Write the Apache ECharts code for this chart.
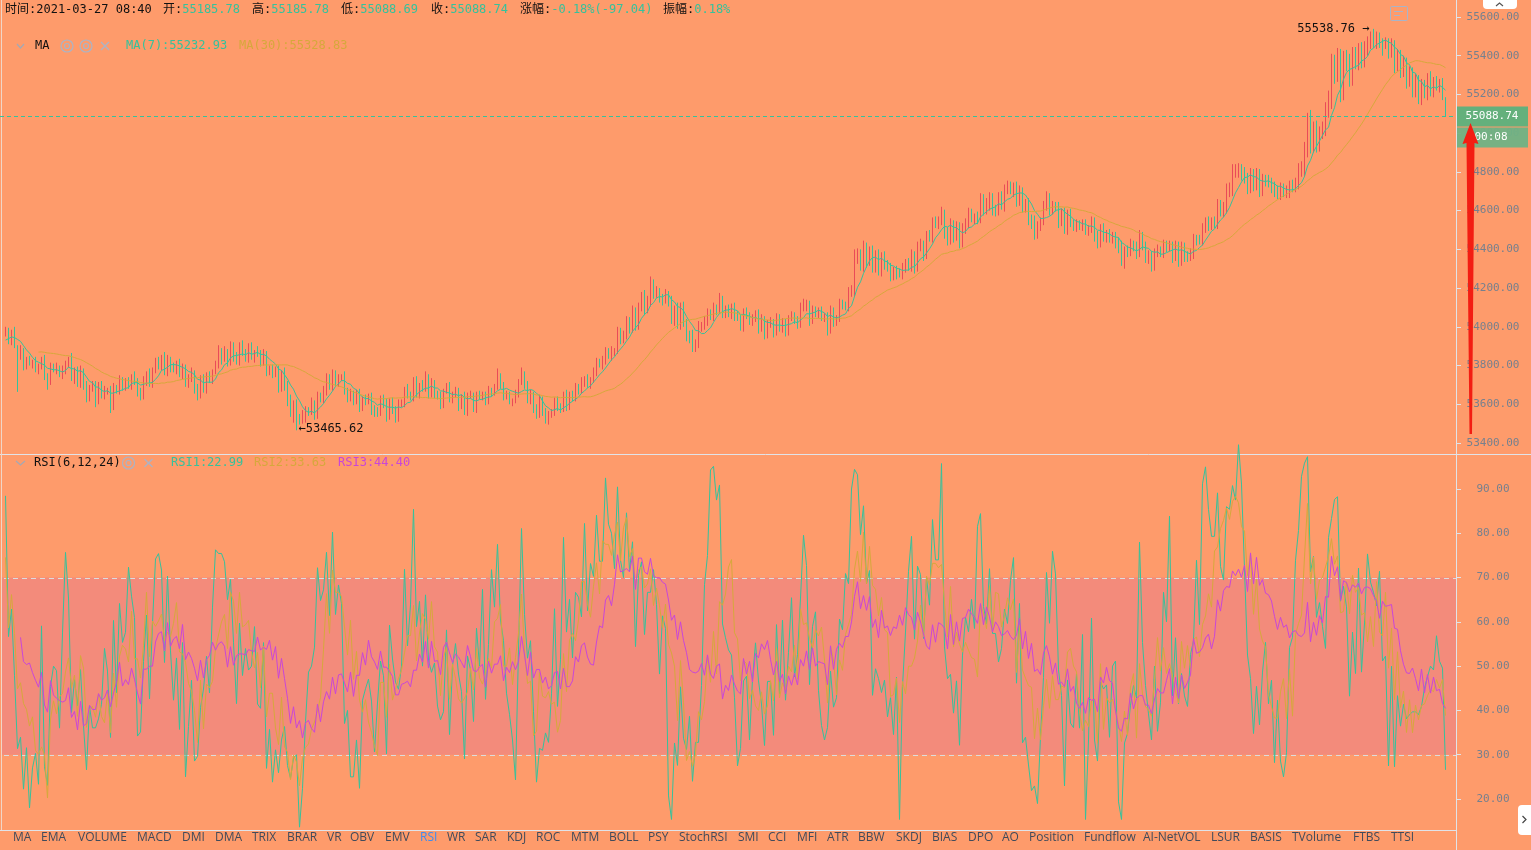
<!DOCTYPE html>
<html>
<head>
<meta charset="utf-8">
<title>K线 RSI</title>
<script src="https://cdn.jsdelivr.net/npm/echarts@6/dist/echarts.min.js"></script>
<style>
  html, body { margin: 0; padding: 0; background: #fe9b6b; }
  #chart { width: 1531px; height: 850px; }
</style>
</head>
<body>
<div id="chart"></div>
<script>
// closes before the visible window, only used to warm up MA / RSI
const warmupCloses = [53790, 53820, 53805, 53840, 53830, 53860, 53845, 53880, 53870, 53850,
  53890, 53905, 53880, 53910, 53930, 53915, 53945, 53960];

// visible closes, 10 candles per row (open = previous close)
const closes = [
  53980, 53930, 53975, 53905, 53850, 53875, 53805, 53825, 53815, 53820,
  53785, 53795, 53825, 53750, 53710, 53795, 53785, 53790, 53755, 53780,
  53805, 53835, 53740, 53775, 53705, 53775, 53705, 53650, 53680, 53690,
  53620, 53700, 53655, 53670, 53675, 53595, 53685, 53670, 53730, 53700,
  53720, 53700, 53745, 53715, 53670, 53645, 53725, 53760, 53705, 53775,
  53820, 53800, 53840, 53765, 53835, 53795, 53780, 53810, 53760, 53790,
  53715, 53735, 53765, 53690, 53650, 53730, 53685, 53750, 53725, 53770,
  53805, 53875, 53830, 53875, 53815, 53905, 53845, 53820, 53900, 53860,
  53840, 53900, 53845, 53870, 53865, 53820, 53865, 53780, 53785, 53760,
  53780, 53690, 53765, 53705, 53630, 53565, 53610, 53530, 53525, 53545,
  53570, 53560, 53610, 53545, 53645, 53625, 53670, 53740, 53690, 53760,
  53715, 53735, 53745, 53670, 53640, 53660, 53615, 53660, 53585, 53630,
  53615, 53645, 53570, 53565, 53555, 53635, 53605, 53540, 53620, 53575,
  53530, 53600, 53605, 53680, 53645, 53640, 53725, 53650, 53700, 53680,
  53740, 53650, 53715, 53655, 53645, 53600, 53670, 53695, 53630, 53655,
  53670, 53590, 53640, 53565, 53645, 53650, 53580, 53650, 53640, 53650,
  53615, 53675, 53665, 53690, 53750, 53700, 53645, 53650, 53615, 53620,
  53655, 53715, 53760, 53705, 53625, 53655, 53585, 53550, 53630, 53570,
  53530, 53550, 53555, 53620, 53590, 53575, 53655, 53590, 53650, 53630,
  53690, 53670, 53715, 53735, 53700, 53725, 53765, 53820, 53805, 53825,
  53870, 53850, 53870, 53875, 53975, 53935, 53950, 54030, 53990, 54080,
  54005, 54095, 54155, 54090, 54130, 54220, 54175, 54180, 54145, 54140,
  54165, 54135, 54040, 54095, 54015, 54105, 54025, 53960, 53955, 53900,
  53910, 54000, 54005, 54030, 54065, 54055, 54095, 54090, 54140, 54070,
  54090, 54070, 54105, 54055, 54050, 54005, 54075, 54060, 54035, 54045,
  54070, 53990, 54040, 53965, 54015, 54025, 53970, 54050, 54000, 54020,
  53975, 54045, 54055, 54040, 54010, 54100, 54105, 54120, 54035, 54090,
  54075, 54080, 54050, 54055, 53985, 54085, 54025, 54040, 54120, 54110,
  54100, 54180, 54185, 54360, 54375, 54315, 54415, 54340, 54390, 54310,
  54370, 54290, 54365, 54315, 54310, 54265, 54285, 54280, 54275, 54305,
  54330, 54310, 54370, 54305, 54415, 54425, 54370, 54470, 54465, 54540,
  54535, 54545, 54585, 54490, 54450, 54530, 54465, 54520, 54435, 54510,
  54535, 54585, 54560, 54565, 54555, 54665, 54605, 54630, 54670, 54610,
  54600, 54670, 54625, 54710, 54725, 54705, 54725, 54650, 54700, 54620,
  54640, 54560, 54545, 54485, 54520, 54545, 54625, 54670, 54605, 54625,
  54620, 54540, 54590, 54505, 54585, 54535, 54520, 54530, 54520, 54530,
  54495, 54505, 54545, 54470, 54430, 54510, 54465, 54480, 54455, 54470,
  54435, 54415, 54330, 54395, 54385, 54425, 54415, 54380, 54470, 54420,
  54360, 54370, 54315, 54380, 54395, 54385, 54425, 54410, 54420, 54360,
  54420, 54340, 54415, 54365, 54360, 54375, 54455, 54450, 54445, 54505,
  54540, 54520, 54540, 54535, 54625, 54595, 54610, 54700, 54710, 54800,
  54805, 54815, 54795, 54770, 54720, 54790, 54735, 54790, 54705, 54760,
  54755, 54745, 54720, 54705, 54685, 54715, 54695, 54700, 54730, 54720,
  54740, 54810, 54815, 54920, 55080, 54935, 55025, 54940, 55000, 55020,
  55120, 55170, 55365, 55305, 55390, 55215, 55385, 55360, 55285, 55405,
  55370, 55430, 55375, 55440, 55470, 55515, 55470, 55505, 55480, 55445,
  55480, 55400, 55470, 55330, 55420, 55300, 55380, 55250, 55330, 55200,
  55290, 55160, 55260, 55190, 55300, 55200, 55280, 55230, 55270, 55185.78,
  55088.74
];

// upper / lower shadow length of each candle (price units)
const wickUp = [
  20, 15, 10, 25, 0, 30, 15, 20, 25, 10,
  25, 15, 20, 30, 10, 20, 15, 25, 10, 20,
  20, 10, 30, 15, 20, 25, 10, 15, 20, 30,
  30, 15, 20, 25, 10, 20, 25, 15, 20, 10,
  15, 20, 10, 25, 20, 15, 20, 10, 25, 15,
  20, 25, 15, 30, 20, 10, 20, 15, 25, 20,
  15, 20, 25, 10, 15, 20, 25, 15, 20, 10,
  20, 30, 15, 25, 10, 20, 15, 25, 20, 30,
  25, 15, 20, 10, 30, 15, 20, 10, 15, 20,
  15, 20, 10, 25, 15, 20, 10, 15, 20, 25,
  20, 15, 25, 10, 20, 15, 25, 20, 15, 20,
  15, 20, 10, 25, 15, 20, 10, 15, 20, 10,
  20, 10, 15, 25, 20, 10, 15, 25, 10, 15,
  15, 25, 20, 10, 25, 20, 15, 20, 10, 25,
  30, 15, 20, 10, 15, 20, 10, 15, 20, 10,
  20, 15, 10, 25, 15, 20, 10, 15, 20, 15,
  15, 20, 10, 15, 35, 10, 15, 20, 15, 10,
  20, 15, 30, 10, 15, 20, 10, 15, 20, 10,
  10, 15, 20, 15, 20, 15, 10, 20, 15, 20,
  20, 15, 25, 10, 20, 15, 25, 20, 15, 25,
  25, 20, 30, 15, 25, 20, 30, 25, 20, 30,
  20, 30, 25, 35, 30, 40, 25, 30, 20, 25,
  30, 20, 25, 15, 30, 20, 25, 15, 20, 30,
  25, 30, 20, 25, 30, 25, 30, 20, 35, 20,
  20, 25, 15, 20, 25, 15, 20, 25, 15, 20,
  15, 20, 25, 15, 20, 25, 15, 20, 15, 25,
  20, 15, 25, 20, 15, 25, 40, 20, 15, 20,
  15, 20, 25, 15, 20, 25, 15, 20, 25, 20,
  20, 25, 30, 40, 30, 25, 30, 20, 25, 30,
  25, 30, 20, 25, 30, 20, 25, 30, 20, 25,
  20, 25, 30, 20, 25, 30, 20, 25, 30, 25,
  30, 25, 35, 20, 25, 30, 20, 25, 20, 25,
  25, 30, 25, 20, 30, 25, 20, 35, 25, 20,
  20, 25, 30, 25, 30, 25, 20, 25, 30, 20,
  20, 25, 20, 30, 25, 20, 25, 30, 20, 25,
  20, 25, 20, 25, 20, 25, 20, 25, 20, 25,
  25, 20, 25, 20, 25, 20, 25, 20, 25, 20,
  20, 25, 30, 20, 25, 30, 20, 25, 30, 20,
  20, 25, 20, 25, 30, 20, 25, 20, 25, 20,
  25, 20, 25, 20, 25, 30, 25, 20, 25, 30,
  25, 30, 25, 30, 35, 30, 35, 40, 35, 40,
  35, 30, 25, 30, 25, 30, 25, 30, 25, 30,
  25, 30, 25, 30, 25, 30, 25, 30, 25, 30,
  30, 35, 40, 35, 25, 40, 35, 40, 35, 40,
  40, 50, 45, 40, 50, 45, 40, 45, 50, 40,
  40, 35, 40, 35, 30, 10, 23.76, 20, 15, 10,
  15, 10, 20, 10, 15, 10, 20, 10, 15, 10,
  15, 10, 20, 15, 10, 20, 10, 15, 10, 15,
  0
];

const wickDown = [
  10, 20, 25, 15, 186, 20, 30, 25, 15, 30,
  20, 30, 15, 25, 35, 10, 20, 30, 15, 25,
  25, 15, 20, 35, 15, 20, 30, 40, 35, 15,
  35, 20, 25, 30, 20, 40, 25, 15, 20, 30,
  30, 20, 25, 15, 30, 25, 20, 30, 15, 20,
  15, 20, 25, 15, 20, 30, 15, 25, 20, 30,
  25, 30, 20, 35, 30, 20, 25, 30, 15, 20,
  15, 20, 25, 10, 20, 15, 25, 15, 20, 10,
  20, 25, 15, 30, 20, 25, 20, 35, 30, 25,
  20, 30, 25, 35, 40, 30, 60, 64.38, 30, 25,
  40, 20, 15, 25, 20, 15, 20, 25, 15, 20,
  20, 25, 15, 20, 30, 25, 20, 15, 25, 20,
  20, 15, 25, 30, 20, 15, 25, 30, 20, 25,
  25, 20, 15, 20, 15, 20, 25, 15, 20, 15,
  15, 20, 15, 25, 20, 25, 20, 15, 20, 25,
  20, 25, 15, 20, 25, 15, 20, 25, 15, 20,
  20, 15, 25, 20, 15, 20, 25, 20, 15, 25,
  15, 20, 15, 25, 20, 25, 30, 25, 20, 30,
  30, 35, 20, 15, 25, 20, 15, 25, 20, 15,
  15, 20, 15, 25, 15, 20, 15, 20, 15, 25,
  20, 15, 25, 20, 15, 25, 20, 15, 25, 20,
  25, 20, 15, 30, 20, 25, 30, 25, 20, 30,
  20, 30, 25, 35, 25, 30, 25, 35, 40, 30,
  30, 20, 25, 20, 25, 20, 25, 30, 20, 25,
  25, 20, 30, 25, 20, 25, 30, 20, 25, 30,
  20, 25, 15, 30, 25, 20, 25, 15, 25, 30,
  25, 20, 15, 25, 20, 15, 20, 25, 30, 20,
  25, 30, 20, 25, 30, 20, 25, 20, 15, 20,
  15, 20, 25, 30, 35, 25, 30, 35, 25, 30,
  30, 25, 30, 20, 25, 30, 25, 35, 20, 30,
  25, 20, 25, 30, 20, 25, 30, 20, 25, 30,
  25, 30, 20, 35, 30, 25, 30, 20, 30, 25,
  30, 25, 20, 30, 25, 20, 30, 25, 30, 35,
  30, 25, 20, 30, 25, 20, 35, 30, 25, 30,
  30, 35, 40, 35, 30, 25, 20, 25, 30, 25,
  25, 30, 20, 25, 30, 20, 25, 30, 20, 25,
  20, 25, 20, 30, 25, 20, 25, 30, 20, 25,
  30, 35, 15, 30, 25, 20, 25, 30, 20, 25,
  30, 35, 30, 25, 20, 25, 30, 25, 20, 30,
  20, 30, 25, 30, 25, 20, 25, 30, 20, 25,
  20, 25, 20, 25, 30, 25, 30, 25, 30, 35,
  30, 35, 40, 30, 35, 30, 35, 30, 35, 30,
  30, 25, 30, 35, 25, 30, 25, 30, 35, 25,
  25, 30, 35, 40, 45, 40, 35, 40, 35, 30,
  35, 40, 45, 50, 40, 55, 45, 40, 45, 40,
  40, 45, 40, 35, 40, 35, 30, 35, 40, 45,
  10, 15, 10, 20, 10, 15, 10, 20, 10, 15,
  15, 10, 15, 10, 20, 10, 15, 10, 20, 15,
  0.05
];

const SLOTS = 484; // 481 candles + 3 empty slots at the right edge
const categories = Array.from({length: SLOTS}, (_, i) => String(i));

const headerItems = [
  ['时间:', '2021-03-27 08:40', 5, true],
  ['开:', '55185.78', 163],
  ['高:', '55185.78', 252],
  ['低:', '55088.69', 341],
  ['收:', '55088.74', 431],
  ['涨幅:', '-0.18%(-97.04)', 520],
  ['振幅:', '0.18%', 663]
];
const maLegend = [['MA(7):55232.93', 126, 'teal'], ['MA(30):55328.83', 239, 'gold']];
const rsiLegend = [['RSI1:22.99', 171, 'teal'], ['RSI2:33.63', 254, 'gold'], ['RSI3:44.40', 338, 'magenta']];
const menuItems = [
  ['MA', 13], ['EMA', 41], ['VOLUME', 78], ['MACD', 137], ['DMI', 182], ['DMA', 215],
  ['TRIX', 252], ['BRAR', 287], ['VR', 327], ['OBV', 350], ['EMV', 385], ['RSI', 420],
  ['WR', 447], ['SAR', 475], ['KDJ', 507], ['ROC', 536], ['MTM', 571], ['BOLL', 609],
  ['PSY', 648], ['StochRSI', 679], ['SMI', 738], ['CCI', 768], ['MFI', 797], ['ATR', 827],
  ['BBW', 858], ['SKDJ', 896], ['BIAS', 932], ['DPO', 968], ['AO', 1002], ['Position', 1029],
  ['Fundflow', 1084], ['AI-NetVOL', 1143], ['LSUR', 1211], ['BASIS', 1250], ['TVolume', 1292],
  ['FTBS', 1353], ['TTSI', 1391]
];

const C = {
  bg: '#fe9b6b', band: '#f38b7b', teal: '#35c29c', red: '#e94b58', gold: '#d6a83c',
  magenta: '#c946d8', axisText: '#76808e', line: '#e1e3e8', black: '#111111'
};
const MONO = "'DejaVu Sans Mono', 'Noto Sans CJK SC', monospace";

// ---- derived series ----
const warm = warmupCloses.length;
const allCloses = warmupCloses.concat(closes);
const candles = closes.map((c, i) => {
  const o = i === 0 ? warmupCloses[warm - 1] : closes[i - 1];
  return [o, c, +(Math.min(o, c) - wickDown[i]).toFixed(2), +(Math.max(o, c) + wickUp[i]).toFixed(2)];
});

function movingAverage(n) {
  const out = [];
  for (let i = 0; i < allCloses.length; i++) {
    if (i < n - 1) { out.push(null); continue; }
    let s = 0;
    for (let j = i - n + 1; j <= i; j++) s += allCloses[j];
    out.push(+(s / n).toFixed(2));
  }
  return out.slice(warm);
}

function rsi(n) {
  const out = [];
  for (let i = 0; i < allCloses.length; i++) {
    if (i < n - 1) { out.push(null); continue; }
    let up = 0, dn = 0;
    for (let j = i - n + 1; j <= i; j++) {
      if (j === 0) continue;
      const d = allCloses[j] - allCloses[j - 1];
      if (d > 0) up += d; else dn -= d;
    }
    out.push(dn === 0 ? 100 : +(100 - 100 / (1 + up / dn)).toFixed(2));
  }
  return out.slice(warm);
}

const ma7 = movingAverage(7), ma30 = movingAverage(30);
const rsi1 = rsi(6), rsi2 = rsi(12), rsi3 = rsi(24);

const hiddenAxis = {
  type: 'category', data: categories, boundaryGap: true,
  axisLine: {show: false}, axisTick: {show: false}, axisLabel: {show: false}, splitLine: {show: false}
};
const rightAxis = (grid, min, max, interval) => ({
  type: 'value', gridIndex: grid, position: 'right', min, max, interval, scale: true,
  axisLine: {show: false},
  axisTick: {show: true, length: 5, lineStyle: {color: C.line}},
  splitLine: {show: false},
  axisLabel: {color: C.axisText, fontFamily: MONO, fontSize: 11, align: 'center', margin: 37,
    formatter: v => v.toFixed(2)}
});
const lineSeries = (x, data, color) => ({
  type: 'line', xAxisIndex: x, yAxisIndex: x, data, showSymbol: false, symbol: 'none',
  clip: false, silent: true, lineStyle: {width: 1, color}, itemStyle: {color}
});

const chart = echarts.init(document.getElementById('chart'));
chart.setOption({
  backgroundColor: C.bg,
  animation: false,
  grid: [
    {left: 4, right: 75, top: 17, height: 426},
    {left: 4, right: 75, top: 489, height: 310}
  ],
  xAxis: [Object.assign({gridIndex: 0}, hiddenAxis), Object.assign({gridIndex: 1}, hiddenAxis)],
  yAxis: [rightAxis(0, 53400, 55600, 200), rightAxis(1, 20, 90, 10)],
  series: [
    {
      type: 'candlestick', xAxisIndex: 0, yAxisIndex: 0, data: candles,
      large: true, largeThreshold: 50, silent: true,
      itemStyle: {color: C.red, color0: C.teal, borderColor: C.red, borderColor0: C.teal, borderWidth: 1}
    },
    lineSeries(0, ma7, C.teal),
    lineSeries(0, ma30, C.gold),
    lineSeries(1, rsi1, C.teal),
    lineSeries(1, rsi2, C.gold),
    lineSeries(1, rsi3, C.magenta)
  ]
});

// ---- overlay: panes, legends, labels ----
const yPx = (axis, v) => chart.convertToPixel({yAxisIndex: axis}, v);
const xPx = i => chart.convertToPixel({xAxisIndex: 0}, i);
const font12 = '12px ' + MONO;

function text(x, y, str, fill, font, align, z) {
  return {type: 'text', x, y, z: z || 1, silent: true,
    style: {text: str, fill, font: font || font12, align: align || 'left', verticalAlign: 'middle',
      textAlign: align || 'left', textVerticalAlign: 'middle'}};
}
function pairText(x, y, label, value, valueColor) {
  return {type: 'text', x, y, z: 1, silent: true,
    style: {text: '{k|' + label + '}{v|' + value + '}', font: font12,
      verticalAlign: 'middle', textVerticalAlign: 'middle',
      rich: {k: {fill: C.black, font: font12}, v: {fill: valueColor, font: font12}}}};
}
function hline(x1, x2, y, stroke, dash, z) {
  return {type: 'line', silent: true, z: z || 1,
    shape: {x1, y1: y, x2, y2: y}, style: {stroke, lineWidth: 1, lineDash: dash || null}};
}
function vline(x, y1, y2, stroke, z) {
  return {type: 'line', silent: true, z: z || 1, shape: {x1: x, y1, x2: x, y2}, style: {stroke, lineWidth: 1}};
}
function chevron(pts, stroke, z) {
  return {type: 'polyline', silent: true, z: z || 1, shape: {points: pts}, style: {stroke, lineWidth: 1.2, fill: null}};
}
function cross(cx, cy, stroke) {
  return [
    {type: 'line', silent: true, shape: {x1: cx - 4, y1: cy - 4, x2: cx + 4, y2: cy + 4}, style: {stroke, lineWidth: 1.2}},
    {type: 'line', silent: true, shape: {x1: cx + 4, y1: cy - 4, x2: cx - 4, y2: cy + 4}, style: {stroke, lineWidth: 1.2}}
  ];
}
function ring(cx, cy, stroke) {
  return [
    {type: 'circle', silent: true, shape: {cx, cy, r: 6}, style: {stroke, fill: null, lineWidth: 1.2}},
    {type: 'circle', silent: true, shape: {cx, cy, r: 2.5}, style: {stroke, fill: null, lineWidth: 1.2}}
  ];
}

const els = [];
const y70 = yPx(1, 70), y30 = yPx(1, 30);
els.push({type: 'rect', silent: true, z: 0, shape: {x: 2, y: y70, width: 1454, height: y30 - y70}, style: {fill: C.band}});
els.push(hline(4, 1456, Math.round(y70) + 0.5, '#dcdcdc', [5, 4]));
els.push(hline(4, 1456, Math.round(y30) + 0.5, '#dcdcdc', [5, 4]));

// pane borders
els.push(hline(0, 1531, 454.5, C.line));
els.push(hline(0, 1456, 830.5, C.line));
els.push(vline(1456.5, 0, 850, C.line));
els.push(vline(1.5, 0, 830, '#f0d6c8'));

// header
headerItems.forEach(([label, value, x, plain]) => els.push(pairText(x, 10, label, value, plain ? C.black : C.teal)));

// MA legend
els.push(chevron([[17, 44], [20.5, 48], [24, 44]], '#a3a9b6'));
els.push(text(35, 46, 'MA', C.black));
els.push(...ring(67, 46, '#aab4c6'), ...ring(86, 46, '#aab4c6'), ...cross(105, 46, '#aab4c6'));
maLegend.forEach(([s, x, c]) => els.push(text(x, 46, s, C[c])));

// RSI legend
els.push(chevron([[16, 461], [20.5, 465], [25, 461]], '#a3a9b6'));
els.push(text(34, 463, 'RSI(6,12,24)', C.black));
els.push(...ring(128.5, 463, '#aab4c6'), ...cross(148.5, 463, '#aab4c6'));
rsiLegend.forEach(([s, x, c]) => els.push(text(x, 463, s, C[c])));

// bottom indicator menu
menuItems.forEach(([s, x]) => els.push(text(x, 838, s, s === 'RSI' ? '#3f8cf0' : '#414b5b', "12px 'Open Sans', 'Noto Sans', sans-serif")));

// extreme price annotations
let hiIdx = 0, loIdx = 0;
candles.forEach((k, i) => {
  if (k[3] > candles[hiIdx][3]) hiIdx = i;
  if (k[2] < candles[loIdx][2]) loIdx = i;
});
els.push(text(xPx(hiIdx) - 4, yPx(0, candles[hiIdx][3]), candles[hiIdx][3].toFixed(2) + ' →', C.black, font12, 'right'));
els.push(text(xPx(loIdx) + 2, yPx(0, candles[loIdx][2]) - 1, '←' + candles[loIdx][2].toFixed(2), C.black, font12, 'left'));

// last price line + tags
const last = closes[closes.length - 1];
const yLast = Math.round(yPx(0, last)) + 0.5;
els.push(hline(0, 1456, yLast, C.teal, [4, 3], 5));
els.push({type: 'rect', silent: true, z: 20, shape: {x: 1457, y: yLast - 10, width: 71, height: 20}, style: {fill: '#64b07c'}});
els.push(text(1492, yLast, last.toFixed(2), '#ffffff', '11px ' + MONO, 'center', 21));
els.push({type: 'rect', silent: true, z: 20, shape: {x: 1457, y: yLast + 11, width: 71, height: 20}, style: {fill: '#6fb285', opacity: 0.95}});
els.push(text(1491, yLast + 21, '00:08', '#ffffff', '11px ' + MONO, 'center', 21));

// red arrow drawn on the screenshot
els.push({type: 'polygon', silent: true, z: 30, shape: {points: [
  [1470.5, 123], [1478.5, 144], [1474.5, 143], [1472, 434], [1469.5, 434], [1466.5, 143], [1462.5, 144]
]}, style: {fill: '#f31d12'}});

// small widgets
els.push({type: 'rect', silent: true, shape: {x: 1390.5, y: 6.5, width: 17, height: 14, r: 1}, style: {stroke: '#a9b4c8', fill: null, lineWidth: 1}});
els.push(hline(1394, 1403, 11.5, '#a9b4c8'));
els.push(hline(1394, 1400, 15.5, '#a9b4c8'));
els.push({type: 'rect', silent: true, z: 20, shape: {x: 1483, y: 0, width: 34, height: 9, r: [0, 0, 4, 4]}, style: {fill: '#ffffff'}});
els.push(chevron([[1496, 6], [1499.5, 3], [1503, 6]], '#555555', 21));
els.push({type: 'rect', silent: true, z: 20, shape: {x: 1518, y: 805, width: 14, height: 30, r: [4, 0, 0, 4]}, style: {fill: '#ffffff'}});
els.push(chevron([[1522.5, 816], [1526, 819.5], [1522.5, 823]], '#444444', 21));

chart.setOption({graphic: {elements: els}});
</script>
</body>
</html>
